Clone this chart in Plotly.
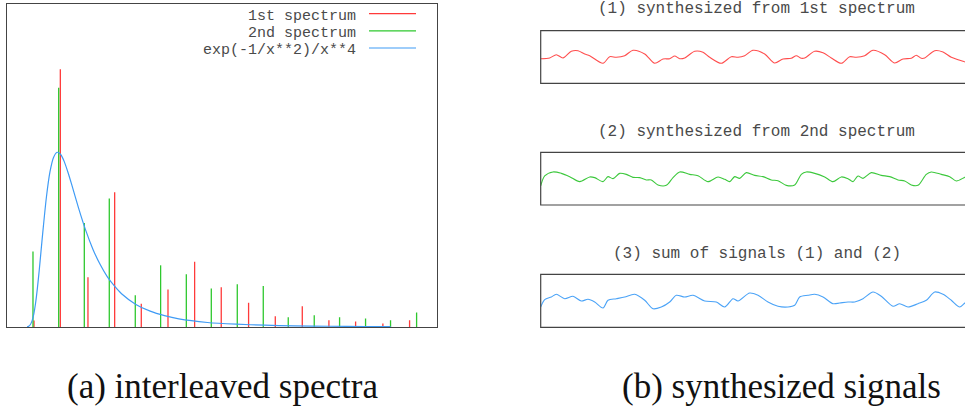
import plotly.graph_objects as go

# ---------------- data: panel (a) interleaved spectra ----------------
red_x = [0.377, 0.745, 1.131, 1.504, 1.876, 2.249, 2.621, 2.993, 3.375, 3.748, 4.125, 4.497, 4.870, 5.251, 5.624]
red_h = [0.020, 0.798, 0.154, 0.417, 0.072, 0.116, 0.202, 0.123, 0.075, 0.033, 0.064, 0.021, 0.017, 0.011, 0.021]

green_x = [0.363, 0.722, 1.080, 1.429, 1.792, 2.146, 2.505, 2.854, 3.217, 3.580, 3.929, 4.292, 4.646, 5.009, 5.358, 5.722]
green_h = [0.234, 0.741, 0.322, 0.398, 0.098, 0.191, 0.163, 0.119, 0.132, 0.127, 0.030, 0.036, 0.030, 0.026, 0.021, 0.045]

curve_x = [0.28, 0.30, 0.325, 0.35, 0.375, 0.40, 0.425, 0.45, 0.475, 0.50, 0.55, 0.60, 0.65, 0.70, 0.75,
           0.80, 0.85, 0.90, 1.0, 1.1, 1.2, 1.3, 1.4, 1.5, 1.6, 1.8, 2.0, 2.2, 2.4, 2.8, 3.2, 3.6, 4.0, 4.5, 5.0, 5.36]
curve_y = [0.0005, 0.0019, 0.0069, 0.019, 0.041, 0.075, 0.121, 0.175, 0.234, 0.293, 0.401, 0.480, 0.525, 0.541, 0.534,
           0.512, 0.480, 0.444, 0.368, 0.299, 0.241, 0.194, 0.156, 0.127, 0.103, 0.070, 0.049, 0.035, 0.025, 0.014, 0.0087, 0.0055, 0.0037, 0.0023, 0.0015, 0.0012]

legend_labels = ["1st spectrum", "2nd spectrum", "exp(-1/x**2)/x**4"]

# ---------------- data: panel (b) synthesized signals ----------------
sig1_t = [0, 9, 15.6, 22.3, 30.6, 37.3, 44, 49, 62.3, 69, 75.6, 84, 92.3, 104, 114, 122.3, 129, 134, 139, 144, 154, 162.3,
          169, 180.6, 190.6, 197.3, 204, 212.3, 224, 234, 242.3, 250.6, 255.6, 260.6, 264, 274, 282.3, 290.6, 300.6, 309,
          315.6, 324, 332.3, 344, 354, 362.3, 370.6, 375.6, 380.6, 384, 394, 402.3, 410.6, 422.3, 426]
sig1_v = [-1.7, -1, 2.3, -1, 5.7, 6.3, 3, 1.3, -6.3, 0.3, -0.3, 1.3, 6.7, 3, -6.3, -2, -1.7, 1, -1.7, -1, 5.7, 4.7,
          -0.3, -6.3, 0.3, -0.3, 1.3, 6.7, 3, -6, -2, -1.3, 1.3, -1.3, -1, 5.7, 4.3, -1, -6.3, 0.3,
          -0.3, 1.3, 6.7, 2.3, -6, -2, -1.3, 1.7, -1.3, -1, 6.3, 5, -0.3, -4.3, -5.5]

sig2_t = [0, 4, 12.3, 20.6, 29, 39, 49, 54, 62.3, 67.3, 72.3, 79, 85.6, 92.3, 99, 105.6, 110.6, 117.3, 125.6, 132.3, 139,
          149, 157.3, 167.3, 177.3, 184, 189, 194, 199, 205.6, 214, 222.3, 230.6, 237.3, 245.6, 254, 260.6, 265.6, 274,
          284, 292.3, 300.6, 307.3, 312.3, 317.3, 322.3, 330.6, 340.6, 349, 357.3, 364, 370.6, 377.3, 385.6, 390.6,
          400.6, 409, 415.6, 423.3, 426]
sig2_v = [-7.3, 2.7, 6.7, 5.3, 2, -3, 1.7, 1, -3, 2, 0, 5.3, 4.3, 1.3, 1, -1.3, -1.3, -6.3, -6.7, 1, 6.7,
          4.3, 3, -3, 1.7, -0.7, -3, 2, 0.3, 6, 3.3, 2, -1.3, -2, -6.7, -6.3, 4.3, 6.7, 5.3,
          1.7, -3, 1.7, 0, -3, 2.7, 0.3, 6, 3.3, 2, -1.3, -2.3, -6.3, -6.7, 4.3, 6.7,
          4.3, 2, -2.3, 1, 2.5]

sig3_t = [0, 4, 10.6, 15.6, 24, 32.3, 40.6, 47.3, 54, 62.3, 67.3, 75.6, 84, 94, 104, 112.3, 120.6, 129, 135.6, 144,
          152.3, 164, 175.6, 184, 192.3, 197.3, 209, 217.3, 227.3, 237.3, 247.3, 254, 259, 267.3, 274, 282.3, 292.3,
          299, 307.3, 314, 322.3, 332.3, 340.6, 352.3, 359, 367.3, 377.3, 385.6, 394, 402.3, 410.6, 419, 423.3, 426]
sig3_v = [-6.2, 1.1, 3.8, 6.5, 2.1, 4.5, -0.2, 1.5, -1.2, -7.2, 0.5, 2.1, 3.8, 6.5, 0.5, -7.9, -6.2, -1.2, 5.5, 3.8,
          5.5, -0.2, -1.2, -6.2, 2.1, -0.2, 7.8, 5.5, -1.2, -5.5, -6.2, -4.5, 3.8, 5.5, 6.5, 3.8, -2.9,
          -2.2, -1.2, -1.2, 2.1, 8.8, 4.5, -5.5, -2.9, -6.2, -2.9, 0.5, 8.8, 6.5, 0.5, -6.2, -2.9, -1.0]

signal_titles = ["(1) synthesized from 1st spectrum",
                 "(2) synthesized from 2nd spectrum",
                 "(3) sum of signals (1) and (2)"]
captions = ["(a) interleaved spectra", "(b) synthesized signals"]

# ---------------- styling ----------------
W, H = 965, 409
RED, GREEN, BLUE = "#ff3a3a", "#2ec82e", "#3f9bf5"
FRAME = "#444444"
MONO = "Liberation Mono, Courier New, monospace"
TEXT_C = "#4a4a4a"


def stems(xs, hs):
    X, Y = [], []
    for x, h in zip(xs, hs):
        X += [x, x, None]
        Y += [0, h, None]
    return X, Y


fig = go.Figure()

rx, ry = stems(red_x, red_h)
gx, gy = stems(green_x, green_h)
fig.add_trace(go.Scatter(x=rx, y=ry, mode="lines", line=dict(color=RED, width=1.3),
                         xaxis="x", yaxis="y", hoverinfo="skip", showlegend=False))
fig.add_trace(go.Scatter(x=gx, y=gy, mode="lines", line=dict(color=GREEN, width=1.3),
                         xaxis="x", yaxis="y", hoverinfo="skip", showlegend=False))
fig.add_trace(go.Scatter(x=curve_x, y=curve_y, mode="lines", line=dict(color=BLUE, width=1.2, shape="spline", smoothing=0.6),
                         xaxis="x", yaxis="y", hoverinfo="skip", showlegend=False))

sigs = [(sig1_t, sig1_v, "#ff4d4d"), (sig2_t, sig2_v, "#3cc83c"), (sig3_t, sig3_v, "#4ba3f7")]
for i, (t, v, c) in enumerate(sigs):
    n = i + 2
    fig.add_trace(go.Scatter(x=t, y=v, mode="lines", line=dict(color=c, width=1.1, shape="spline", smoothing=0.8),
                             xaxis=f"x{n}", yaxis=f"y{n}", hoverinfo="skip", showlegend=False))


def px2x(p):
    return p / W


def px2y(p):
    return 1 - p / H


# left panel area (pixels)
L_x0, L_x1, L_y0, L_y1 = 7, 436.5, 4, 327

layout = dict(
    width=W, height=H, margin=dict(l=0, r=0, t=0, b=0),
    paper_bgcolor="white", plot_bgcolor="white", showlegend=False,
    xaxis=dict(domain=[px2x(L_x0), px2x(L_x1)], range=[0, 6], showgrid=False, zeroline=False,
               showticklabels=False, ticks="", showline=True, mirror=True, linecolor=FRAME, linewidth=1.2),
    yaxis=dict(domain=[px2y(L_y1), px2y(L_y0)], range=[0, 1.0], showgrid=False, zeroline=False,
               showticklabels=False, ticks="", showline=True, mirror=True, linecolor=FRAME, linewidth=1.2),
)

boxes = [(30.7, 83.3), (152.3, 205.0), (274.3, 327.3)]
R_x0 = 540.7
shapes = []
for i, (top, bot) in enumerate(boxes):
    n = i + 2
    layout[f"xaxis{n}"] = dict(domain=[px2x(R_x0), 1.0], range=[0, W - R_x0], visible=False)
    layout[f"yaxis{n}"] = dict(domain=[px2y(bot), px2y(top)], range=[-(bot - top) / 2, (bot - top) / 2], visible=False)
    shapes.append(dict(type="rect", xref="paper", yref="paper", x0=px2x(R_x0), x1=1.02,
                       y0=px2y(bot), y1=px2y(top), line=dict(color=FRAME, width=1.2)))

annotations = []
# legend inside left panel
legend_rows = [16.6, 33.8, 51.0]
legend_cols = [RED, GREEN, BLUE]
for lab, row, col in zip(legend_labels, legend_rows, legend_cols):
    annotations.append(dict(x=px2x(356.5), y=px2y(row), xref="paper", yref="paper", text=lab,
                            showarrow=False, xanchor="right", yanchor="middle", borderpad=0,
                            font=dict(family=MONO, size=15, color=TEXT_C)))
    shapes.append(dict(type="line", xref="paper", yref="paper", x0=px2x(369), x1=px2x(416),
                       y0=px2y(row - 3), y1=px2y(row - 3), line=dict(color=col, width=1.2)))

title_rows = [9.5, 131.8, 254.0]
for txt, row in zip(signal_titles, title_rows):
    annotations.append(dict(x=px2x(756.5), y=px2y(row), xref="paper", yref="paper", text=txt,
                            showarrow=False, xanchor="center", yanchor="middle",
                            font=dict(family=MONO, size=16, color=TEXT_C)))

for txt, cx in zip(captions, [222, 781]):
    annotations.append(dict(x=px2x(cx), y=px2y(386), xref="paper", yref="paper", text=txt,
                            showarrow=False, xanchor="center", yanchor="middle",
                            font=dict(family="Liberation Serif, DejaVu Serif, serif", size=35, color="#111111")))

layout["shapes"] = shapes
layout["annotations"] = annotations
fig.update_layout(**layout)

fig.write_html("out.html", config={"displayModeBar": False},
               post_script="document.body.style.margin='0px';document.body.style.overflow='hidden';")
